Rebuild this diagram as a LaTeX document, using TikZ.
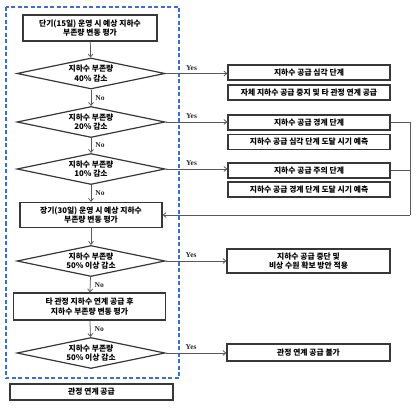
\documentclass[tikz,border=0pt]{standalone}
\usepackage{fontspec}
\setmainfont{Liberation Serif}
\newfontfamily\kr{Noto Sans CJK KR}
\usetikzlibrary{shapes.geometric,arrows.meta}
\definecolor{dblue}{RGB}{60,110,205}
\definecolor{lnc}{RGB}{55,55,55}
\begin{document}
\begin{tikzpicture}[x=1pt,y=-1pt,
  krf/.style={font=\kr\bfseries\fontsize{7.8}{9.5}\selectfont},
  box/.style={krf, draw=lnc, line width=1.2pt, rectangle, inner sep=0pt, align=center},
  dia/.style={krf, draw=lnc, line width=1.2pt, diamond, inner sep=0pt, shape aspect=4.7,
    minimum width=148pt, minimum height=31pt, align=center},
  conn/.style={draw=black!65, line width=0.75pt},
  arr/.style={conn, -{Straight Barb[length=3pt,width=5pt]}},
  lab/.style={font=\bfseries\fontsize{7.5}{8}\selectfont, inner sep=1pt, text=black!85}
]
\useasboundingbox (0,0) rectangle (419,411);

% dashed frame
\draw[dblue, line width=1.2pt, dash pattern=on 4pt off 2.5pt] (6,7) rectangle (179,378);

% left column
\node[box, minimum width=134pt, minimum height=26pt] (b1) at (90,28) {단기(15일) 운영 시 예상 지하수\\부존량 변동 평가};
\node[dia] (d1) at (91,73.5) {지하수 부존량\\40\% 감소};
\node[dia] (d2) at (91,122) {지하수 부존량\\20\% 감소};
\node[dia] (d3) at (91,169) {지하수 부존량\\10\% 감소};
\node[box, minimum width=142pt, minimum height=25pt] (b2) at (91,215) {장기(30일) 운영 시 예상 지하수\\부존량 변동 평가};
\node[dia] (d4) at (91,261) {지하수 부존량\\50\% 이상 감소};
\node[box, minimum width=152pt, minimum height=27pt] (b3) at (89.5,306.5) {타 관정 지하수 연계 공급 후\\지하수 부존량 변동 평가};
\node[dia] (d5) at (91,353) {지하수 부존량\\50\% 이상 감소};
\node[box, minimum width=163pt, minimum height=16pt] (b4) at (91.5,392) {관정 연계 공급};

% right column
\node[box, minimum width=162pt, minimum height=15pt] (r1) at (309,72.5) {지하수 공급 심각 단계};
\node[box, minimum width=162pt, minimum height=15pt] (r1b) at (309,92.5) {자체 지하수 공급 중지 및 타 관정 연계 공급};
\node[box, minimum width=162pt, minimum height=15pt] (r2) at (309,122.5) {지하수 공급 경계 단계};
\node[box, minimum width=162pt, minimum height=15pt] (r2b) at (309,142) {지하수 공급 심각 단계 도달 시기 예측};
\node[box, minimum width=162pt, minimum height=15pt] (r3) at (309,170.5) {지하수 공급 주의 단계};
\node[box, minimum width=162pt, minimum height=15pt] (r3b) at (309,189.5) {지하수 공급 경계 단계 도달 시기 예측};
\node[box, minimum width=163pt, minimum height=24pt] (r4) at (308.5,261) {지하수 공급 중단 및\\비상 수원 확보 방안 적용};
\node[box, minimum width=163pt, minimum height=17pt] (r5) at (308.5,352.5) {관정 연계 공급 불가};

% vertical flow
\draw[arr] (b1) -- (d1);
\draw[arr] (d1) -- node[lab, right=3pt]{No} (d2);
\draw[arr] (d2) -- node[lab, right=3pt]{No} (d3);
\draw[arr] (d3) -- node[lab, right=3pt]{No} (b2);
\draw[arr] (b2) -- (d4);
\draw[arr] (d4) -- node[lab, right=3pt]{No} (b3);
\draw[arr] (b3) -- node[lab, right=3pt]{No} (d5);

% yes branches
\draw[arr] (d1.east) -- node[lab, above=2pt, pos=0.42]{Yes} (d1.east -| r1.west);
\draw[arr] (d2.east) -- node[lab, above=2pt, pos=0.42]{Yes} (d2.east -| r2.west);
\draw[arr] (d3.east) -- node[lab, above=2pt, pos=0.42]{Yes} (d3.east -| r3.west);
\draw[arr] (d4.east) -- node[lab, above=2pt, pos=0.42]{Yes} (d4.east -| r4.west);
\draw[arr] (d5.east) -- node[lab, above=2pt, pos=0.42]{Yes} (d5.east -| r5.west);

% feedback loop
\coordinate (rx) at (410,215);
\draw[conn] (r2.east) -| (rx);
\draw[conn] (r3.east) -- (r3.east -| rx);
\draw[arr] (rx) -- (b2.east);
\end{tikzpicture}
\end{document}
